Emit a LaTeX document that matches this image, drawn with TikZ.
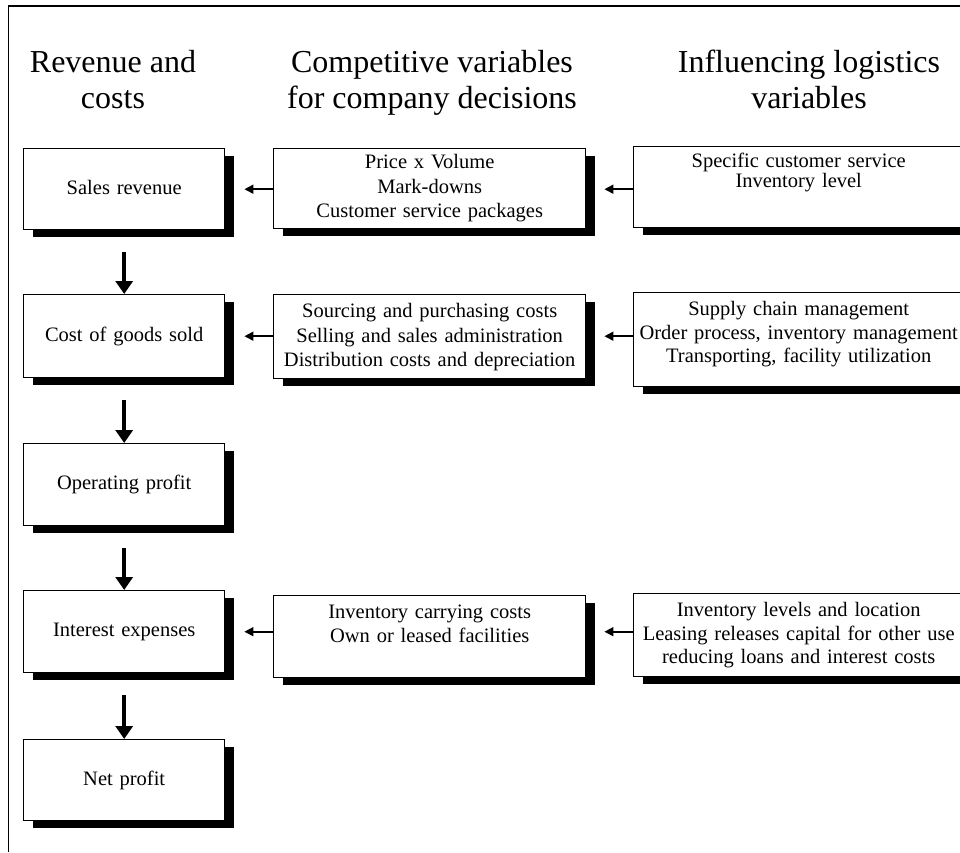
\documentclass[tikz,border=0pt]{standalone}
\usepackage{fontspec}
\setmainfont{Liberation Serif}
\usetikzlibrary{arrows.meta,shadows}

\begin{document}
\begin{tikzpicture}[x=1pt,y=-1pt,
  box/.style={draw=black, line width=1.4pt, fill=white, inner sep=0pt,
    align=center, anchor=north west,
    drop shadow={shadow xshift=9pt, shadow yshift=-7pt, fill=black, opacity=1}},
  bfont/.style={font=\fontsize{20.5}{#1}\selectfont},
  head/.style={font=\fontsize{32}{36}\selectfont, align=center, inner sep=0pt, anchor=north},
  down/.style={line width=3.6pt, -{Triangle[width=17pt,length=13pt]}},
  left/.style={line width=1.6pt, -{Triangle[width=9pt,length=9pt]}}
]
\useasboundingbox (0,0) rectangle (960,852);
\clip (0,0) rectangle (960,852);

% outer frame (open towards the right and bottom)
\draw[line width=1.8pt] (8.5,852) -- (8.5,6) -- (960,6);

% column headings
\node[head] (h1) at (113,50) {Revenue and\\costs};
\node[head] (h2) at (432,50) {Competitive variables\\for company decisions};
\node[head] (h3) at (809,50) {Influencing logistics\\variables};

% revenue and costs column
\node[box, bfont=24.5, text width=201pt, text height=45.5pt, text depth=35.5pt] (l1) at (23,148) {Sales revenue};
\node[box, bfont=24.5, text width=201pt, text height=46.5pt, text depth=36.5pt] (l2) at (23,294) {Cost of goods sold};
\node[box, bfont=24.5, text width=201pt, text height=45.5pt, text depth=36.5pt] (l3) at (23,443) {Operating profit};
\node[box, bfont=24.5, text width=201pt, text height=46pt, text depth=36pt] (l4) at (23,590) {Interest expenses};
\node[box, bfont=24.5, text width=201pt, text height=45.5pt, text depth=35.5pt] (l5) at (23,739) {Net profit};

% competitive variables column
\node[box, bfont=24.5, text width=312pt, text height=20pt, text depth=60pt] (m1) at (273,148)
  {Price x Volume\\Mark-downs\\Customer service packages};
\node[box, bfont=24.5, text width=312pt, text height=23pt, text depth=61pt] (m2) at (273,294)
  {Sourcing and purchasing costs\\Selling and sales administration\\Distribution costs and depreciation};
\node[box, bfont=24, text width=312pt, text height=23pt, text depth=59pt] (m3) at (273,595)
  {Inventory carrying costs\\Own or leased facilities};

% logistics variables column
\node[box, bfont=20, text width=330pt, text height=21pt, text depth=60pt] (r1) at (633,146)
  {Specific customer service\\Inventory level};
\node[box, bfont=23.5, text width=330pt, text height=23pt, text depth=71pt] (r2) at (633,292)
  {Supply chain management\\Order process, inventory management\\Transporting, facility utilization};
\node[box, bfont=23.5, text width=330pt, text height=23pt, text depth=60pt] (r3) at (633,593)
  {Inventory levels and location\\Leasing releases capital for other use\\reducing loans and interest costs};

% profit chain
\draw[down] ([yshift=-22pt]l1.south) -- (l2.north);
\draw[down] ([yshift=-22pt]l2.south) -- (l3.north);
\draw[down] ([yshift=-22pt]l3.south) -- (l4.north);
\draw[down] ([yshift=-22pt]l4.south) -- (l5.north);

% influences
\draw[left] (m1.west |- l1.east) -- ([xshift=19pt]l1.east);
\draw[left] (m2.west |- l2.east) -- ([xshift=19pt]l2.east);
\draw[left] (m3.west |- l4.east) -- ([xshift=19pt]l4.east);
\draw[left] (r1.west |- l1.east) -- ([xshift=18pt]m1.east |- l1.east);
\draw[left] (r2.west |- l2.east) -- ([xshift=18pt]m2.east |- l2.east);
\draw[left] (r3.west |- l4.east) -- ([xshift=18pt]m3.east |- l4.east);
\end{tikzpicture}
\end{document}
